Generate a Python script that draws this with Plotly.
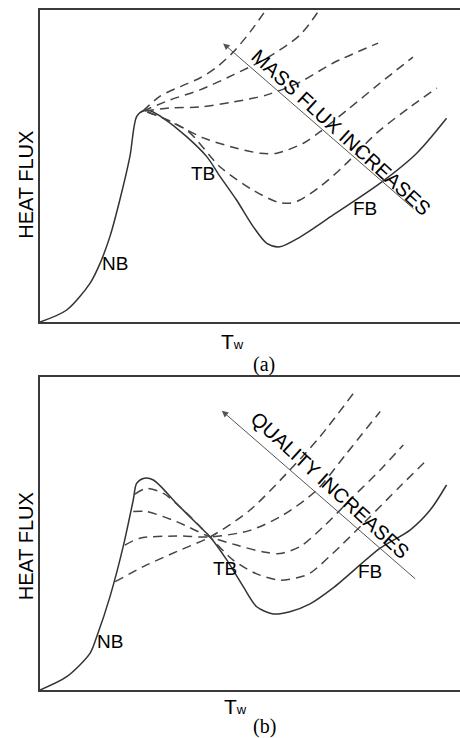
import plotly.graph_objects as go

W, H = 460, 738

# ---------------- Panel (a): mass flux family ----------------
a_solid_x = [0, 6.36, 11.9, 14.3, 16.7, 19.0, 21.4, 23.0, 24.6, 26.2, 29.4, 34.9, 39.7, 42.9, 46.8,
             50.8, 54.0, 57.1, 61.9, 69.8, 81.0, 89.7, 96.8]
a_solid_y = [0, 3.85, 12.4, 18.8, 27.6, 39.1, 53.0, 65.8, 67.7, 67.7, 65.3, 59.4, 53.0, 46.6, 39.1,
             30.5, 25.2, 24.1, 27.2, 34.3, 44.5, 54.1, 65.3]

a_dash_x = [
    [24.5, 28.6, 34.9, 38.1, 42.1, 46.0, 50.0, 54.3],
    [24.5, 31.0, 38.1, 46.0, 54.0, 61.9, 67.0],
    [25.0, 31.0, 38.1, 46.0, 54.0, 61.9, 69.8, 80.5],
    [25.5, 29.4, 38.9, 46.8, 52.4, 56.4, 62.7, 66.7, 73.1, 81.0, 88.8],
    [25.7, 34.9, 42.9, 50.8, 56.4, 59.5, 61.9, 66.7, 72.1, 80.2, 88.1, 94.5],
]
a_dash_y = [
    [67.6, 72.4, 76.3, 78.2, 81.7, 86.5, 92.9, 101.0],
    [67.6, 71.2, 74.4, 79.2, 84.6, 92.0, 101.0],
    [67.6, 68.6, 68.9, 70.5, 72.8, 76.9, 83.0, 89.4],
    [67.3, 65.3, 59.0, 55.7, 54.1, 54.1, 57.3, 61.0, 67.9, 76.6, 84.9],
    [67.3, 61.5, 49.7, 42.2, 38.5, 38.1, 39.1, 43.4, 49.7, 60.6, 68.9, 75.0],
]
a_arrow = {"head": (43.6, 89.3), "tail": (89.3, 35.9)}
a_arrow_text = "MASS FLUX INCREASES"
a_arrow_text_pos = (71.9, 60.7)
a_labels = [("NB", 17.9, 18.8), ("TB", 38.9, 47.7), ("FB", 77.4, 36.4)]

# ---------------- Panel (b): quality family ----------------
b_solid_x = [0, 6.36, 11.9, 13.5, 16.7, 19.8, 22.2, 23.0, 24.6, 27.0, 32.5, 37.3, 40.5, 44.5, 48.4,
             51.6, 55.5, 59.5, 64.3, 69.8, 81.0, 88.1, 92.9, 96.8]
b_solid_y = [0, 4.25, 11.7, 17.0, 30.0, 45.8, 60.7, 66.0, 67.6, 67.1, 59.6, 53.2, 48.9, 41.5, 33.0,
             26.6, 24.3, 25.0, 27.5, 32.6, 45.3, 51.1, 57.5, 65.5]

b_dash_x = [
    [22.6, 25.4, 29.4, 34.9, 40.5, 46.0, 51.6, 57.1, 61.9, 64.3, 71.4, 77.8, 85.7, 92.5],
    [22.2, 25.4, 32.5, 40.5, 46.8, 53.2, 57.1, 61.9, 67.5, 74.6, 81.0, 86.5],
    [20.2, 23.8, 32.5, 40.5, 50.0, 58.0, 65.9, 73.0, 81.0],
    [17.9, 24.6, 32.5, 40.5, 50.0, 59.5, 66.7, 74.9],
]
b_dash_y = [
    [62.6, 64.4, 62.8, 56.5, 48.9, 41.5, 37.1, 35.1, 36.1, 37.3, 45.8, 54.3, 65.0, 74.0],
    [57.0, 57.0, 53.8, 48.9, 46.3, 44.1, 43.6, 45.8, 52.2, 61.8, 70.3, 78.3],
    [46.3, 48.5, 49.2, 48.9, 51.0, 56.0, 63.9, 75.6, 89.0],
    [34.6, 39.4, 44.2, 48.9, 57.5, 70.3, 81.0, 95.3],
]
b_arrow = {"head": (43.3, 89.2), "tail": (89.7, 35.1)}
b_arrow_text = "QUALITY INCREASES"
b_arrow_text_pos = (69.0, 65.5)
b_labels = [("NB", 16.7, 15.4), ("TB", 44.0, 38.9), ("FB", 78.6, 37.8)]

y_title = "HEAT FLUX"
x_title = "T<span style='font-size:13px'>w</span>"
panel_tags = ["(a)", "(b)"]

SOLID = "#333333"
DASH = "#444444"
FRAME = "#3a3a3a"
TXT = "#000000"
SANS = "Liberation Sans, Arial, sans-serif"
SERIF = "Liberation Serif, Times New Roman, serif"

fig = go.Figure()

def add_panel(xs, ys, dxs, dys, xa, ya):
    fig.add_trace(go.Scatter(x=xs, y=ys, mode="lines", xaxis=xa, yaxis=ya,
                             line=dict(color=SOLID, width=1.5, shape="spline", smoothing=0.8),
                             hoverinfo="skip", showlegend=False))
    for dx, dy in zip(dxs, dys):
        fig.add_trace(go.Scatter(x=dx, y=dy, mode="lines", xaxis=xa, yaxis=ya,
                                 line=dict(color=DASH, width=1.5, dash="9px,6px",
                                           shape="spline", smoothing=0.8),
                                 hoverinfo="skip", showlegend=False))

add_panel(a_solid_x, a_solid_y, a_dash_x, a_dash_y, "x", "y")
add_panel(b_solid_x, b_solid_y, b_dash_x, b_dash_y, "x2", "y2")

def px(x):
    return x / W

def py(y):
    return 1 - y / H

axis_common = dict(range=[0, 100], showgrid=False, zeroline=False, showticklabels=False,
                   ticks="", showline=True, linecolor=FRAME, linewidth=2, fixedrange=True)

fig.update_layout(
    width=W, height=H, margin=dict(l=0, r=0, t=0, b=0),
    paper_bgcolor="white", plot_bgcolor="white",
    xaxis=dict(domain=[px(40), 1], anchor="y", mirror=True, **axis_common),
    yaxis=dict(domain=[py(322), py(10)], anchor="x", mirror=False, **axis_common),
    xaxis2=dict(domain=[px(40), 1], anchor="y2", mirror=True, **axis_common),
    yaxis2=dict(domain=[py(690), py(377)], anchor="x2", mirror=False, **axis_common),
)

ann = []
for (arrow, txt, tpos, labels, xr, yr) in [
    (a_arrow, a_arrow_text, a_arrow_text_pos, a_labels, "x", "y"),
    (b_arrow, b_arrow_text, b_arrow_text_pos, b_labels, "x2", "y2"),
]:
    ann.append(dict(x=arrow["head"][0], y=arrow["head"][1], ax=arrow["tail"][0], ay=arrow["tail"][1],
                    xref=xr, yref=yr, axref=xr, ayref=yr, text="", showarrow=True,
                    arrowhead=2, arrowsize=1.3, arrowwidth=1, arrowcolor="#555555"))
    ann.append(dict(x=tpos[0], y=tpos[1], xref=xr, yref=yr, text=txt, showarrow=False,
                    xanchor="center", yanchor="middle",
                    textangle=42.5, font=dict(family=SANS, size=20, color=TXT)))
    for t, lx, ly in labels:
        ann.append(dict(x=lx, y=ly, xref=xr, yref=yr, text=t, showarrow=False,
                        xanchor="center", yanchor="middle",
                        font=dict(family=SANS, size=19, color=TXT)))

# axis titles and panel tags
for (ytc, txc, tyc, tagc, tag) in [(185, 233, 341, 364, panel_tags[0]),
                                   (546.5, 235, 706, 726, panel_tags[1])]:
    ann.append(dict(x=px(25.8), y=py(ytc), xref="paper", yref="paper", text=y_title,
                    xanchor="center", yanchor="middle",
                    showarrow=False, textangle=-90, font=dict(family=SANS, size=20, color=TXT)))
    ann.append(dict(x=px(txc), y=py(tyc), xref="paper", yref="paper", text=x_title,
                    xanchor="center", yanchor="middle",
                    showarrow=False, font=dict(family=SANS, size=21, color=TXT)))
    ann.append(dict(x=px(264), y=py(tagc), xref="paper", yref="paper", text=tag,
                    xanchor="center", yanchor="middle",
                    showarrow=False, font=dict(family=SERIF, size=20, color=TXT)))

fig.update_layout(annotations=ann)
fig.write_html("out.html", config={"displayModeBar": False},
               post_script="document.body.style.margin='0';document.body.style.overflow='hidden';")
